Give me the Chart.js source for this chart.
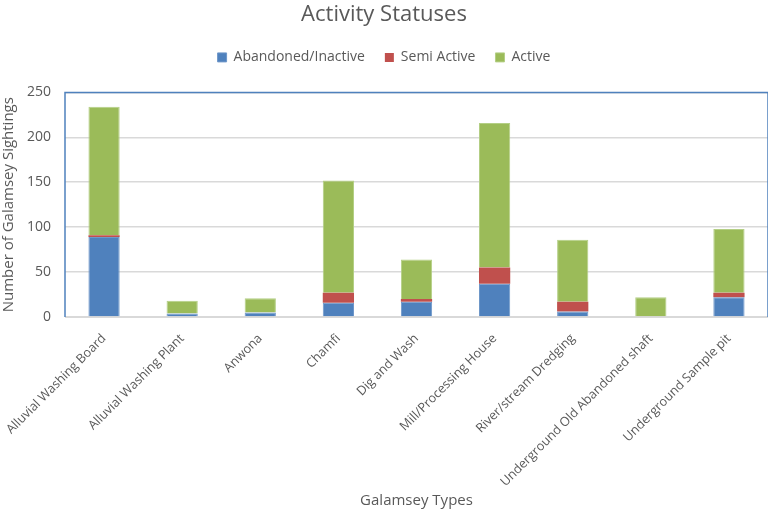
<!DOCTYPE html>
<html>
<head>
<meta charset="utf-8">
<script src="https://cdn.jsdelivr.net/npm/chart.js@4.4.0/dist/chart.umd.min.js"></script>
<style>
  html, body { margin: 0; padding: 0; background: #fff; }
  #wrap { width: 768px; height: 514px; }
</style>
</head>
<body>
<div id="wrap"><canvas id="statusChart"></canvas></div>
<script>
const categories = ['Alluvial Washing Board', 'Alluvial Washing Plant', 'Anwona', 'Chamfi', 'Dig and Wash',
    'Mill/Processing House', 'River/stream Dredging', 'Underground Old Abandoned shaft', 'Underground Sample pit'];
const abandoned = [89, 4, 5, 16, 17, 37, 6, 0, 22];
const semiActive = [2, 0, 0, 11, 3, 18, 11, 0, 5];
const active = [143, 14, 16, 125, 44, 161, 69, 22, 71];
const yTicks = [0, 50, 100, 150, 200, 250];

const textColor = '#595959';
const fontFamily = "'Open Sans', 'Noto Sans', sans-serif";

// blue outline round the plot area (not the bottom edge)
const plotBorder = {
    id: 'plotBorder',
    afterDraw(chart) {
        const a = chart.chartArea;
        const ctx = chart.ctx;
        ctx.save();
        ctx.strokeStyle = '#4F81BD';
        ctx.lineWidth = 1.5;
        ctx.beginPath();
        ctx.moveTo(a.left, a.bottom);
        ctx.lineTo(a.left, a.top);
        ctx.lineTo(a.right, a.top);
        ctx.lineTo(a.right, a.bottom);
        ctx.stroke();
        ctx.restore();
    }
};

// extra room under the legend
const legendGap = {
    id: 'legendGap',
    beforeInit(chart) {
        const fit = chart.legend.fit;
        chart.legend.fit = function () {
            fit.bind(chart.legend)();
            this.height += 18;
        };
    }
};

function createChart() {
    const ctx = document.getElementById('statusChart').getContext('2d');
    new Chart(ctx, {
        type: 'bar',
        data: {
            labels: categories,
            datasets: [
                { label: 'Abandoned/Inactive', data: abandoned, backgroundColor: '#4F81BD', borderColor: '#6F97C9', borderWidth: 1 },
                { label: 'Semi Active', data: semiActive, backgroundColor: '#C0504D', borderColor: '#C0504D', borderWidth: 0 },
                { label: 'Active', data: active, backgroundColor: '#9BBB59', borderColor: '#B4CF85', borderWidth: 1 }
            ]
        },
        options: {
            responsive: true,
            maintainAspectRatio: false,
            animation: false,
            layout: { padding: { left: 0, right: 0, top: 2, bottom: 4 } },
            datasets: { bar: { categoryPercentage: 1, barPercentage: 0.4 } },
            scales: {
                x: {
                    stacked: true,
                    afterFit(scale) { scale.height = 193; scale.paddingLeft = 0; scale.paddingRight = 0; },
                    grid: { display: false },
                    border: { color: '#D9D9D9', width: 1 },
                    ticks: { color: textColor, font: { family: fontFamily, size: 12.7 }, maxRotation: 45, minRotation: 45, padding: 6 },
                    title: { display: true, text: 'Galamsey Types', color: textColor, font: { family: fontFamily, size: 15 }, padding: { top: 4, bottom: 0 } }
                },
                y: {
                    stacked: true,
                    min: 0,
                    max: 250,
                    afterFit(scale) { scale.width = 65; },
                    afterBuildTicks(axis) { axis.ticks = yTicks.map(v => ({ value: v })); },
                    grid: { color: '#D9D9D9', lineWidth: 1.5, drawTicks: false },
                    border: { display: false },
                    ticks: { color: textColor, font: { family: fontFamily, size: 14 }, padding: 14 },
                    title: { display: true, text: 'Number of Galamsey Sightings', color: textColor, font: { family: fontFamily, size: 15 }, padding: { top: 0, bottom: 2 } }
                }
            },
            plugins: {
                title: {
                    display: true,
                    text: 'Activity Statuses',
                    color: textColor,
                    font: { family: fontFamily, size: 22, weight: 'normal' },
                    padding: { top: 0, bottom: 2 }
                },
                legend: {
                    position: 'top',
                    labels: { color: textColor, font: { family: fontFamily, size: 14 }, boxWidth: 9, boxHeight: 9, padding: 20 }
                },
                tooltip: { enabled: false }
            }
        },
        plugins: [plotBorder, legendGap]
    });
}

window.onload = createChart;
</script>
</body>
</html>
